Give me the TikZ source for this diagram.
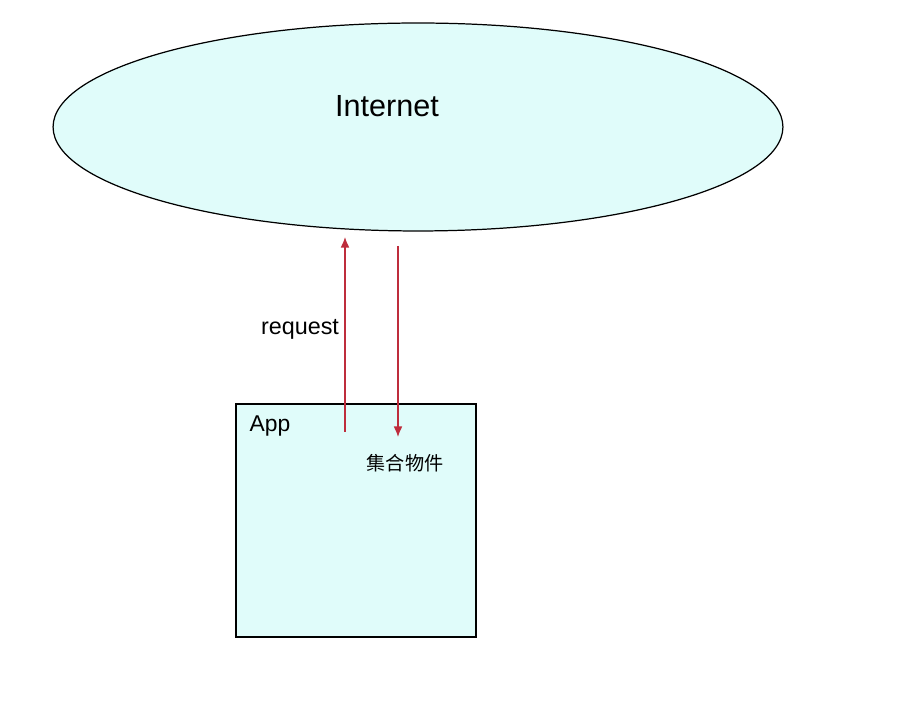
\documentclass[tikz,border=0pt]{standalone}
\usepackage{fontspec}
\setmainfont{Liberation Sans}
\newfontfamily\cjk{Noto Sans CJK TC}
\usetikzlibrary{arrows.meta,shapes.geometric}

\begin{document}
\begin{tikzpicture}[x=0.02cm, y=0.02cm,
    %Option for nice arrows
    >={Latex[length=6pt,width=5pt]},%
    cloud_fill/.style={fill=cloudcyan, draw=black, line width=0.7pt},
    link/.style={->, color=linkred, line width=0.7pt},
    label/.style={inner sep=0pt, font=#1},
]
    % Colors
    \definecolor{linkred}{RGB}{190,45,60}
    \definecolor{cloudcyan}{RGB}{224,252,250}

    % Frame
    \useasboundingbox (0,0) rectangle (905,713);

    % Internet cloud
    \node[ellipse, cloud_fill, minimum width=14.6cm, minimum height=4.16cm] (net) at (418,586) {};
    \node[label=\fontsize{17.4}{20}\selectfont] (net_text) at (387,607) {Internet};

    % App box
    \node[rectangle, cloud_fill, minimum width=4.8cm, minimum height=4.66cm] (app) at (356,192.5) {};
    \node[label=\fontsize{13}{15}\selectfont] (app_text) at (270,287) {App};

    % Request and reply
    \coordinate (req_start) at (345,281);
    \coordinate (req_end)   at (345,476);
    \coordinate (rep_start) at (398,467);
    \coordinate (rep_end)   at (398,276);
    \draw[link] (req_start) -- (req_end);
    \draw[link] (rep_start) -- (rep_end);

    \node[label=\fontsize{13.3}{15}\selectfont] (req_text) at (300,384) {request};
    \node[label=\fontsize{10.9}{13}\selectfont\cjk] (rep_text) at (405,250) {集合物件};
\end{tikzpicture}
\end{document}
